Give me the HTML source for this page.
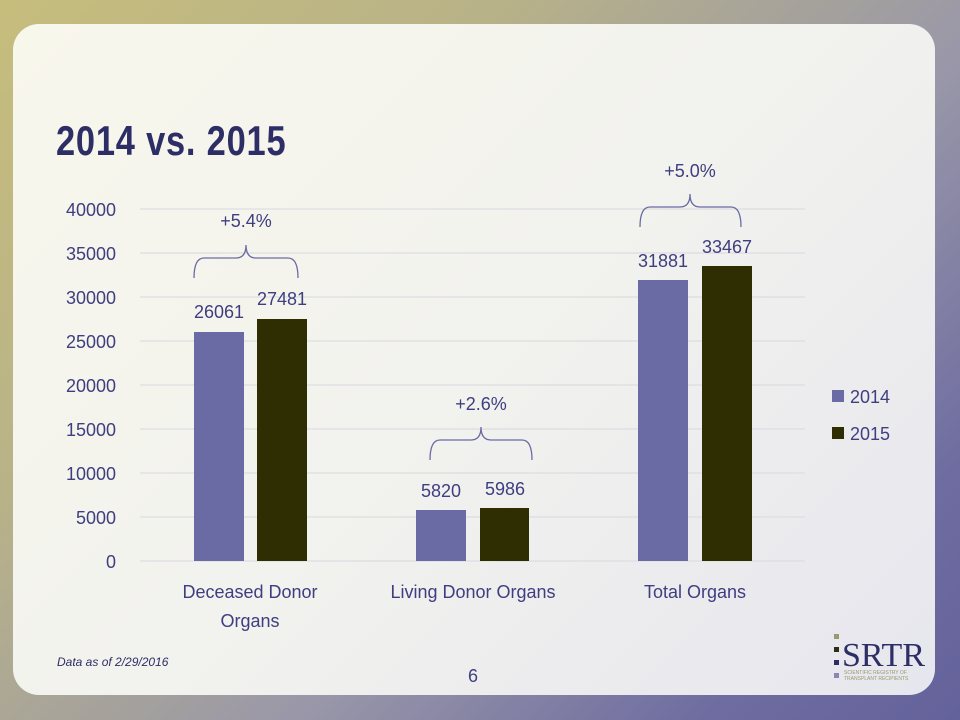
<!DOCTYPE html>
<html><head><meta charset="utf-8"><style>
body{margin:0;width:960px;height:720px;overflow:hidden;font-family:"Liberation Sans",sans-serif}
.bg{position:absolute;inset:0;background:linear-gradient(135deg,#c6bd7c 0%,#b8b288 30%,#9a98a8 60%,#6e6ca0 85%,#64629a 100%)}
.panel{position:absolute;left:13px;top:24px;width:922px;height:671px;border-radius:26px;background:linear-gradient(135deg,#f8f7ec 0%,#f2f2ee 50%,#e6e6ee 100%)}
</style></head><body>
<div class="bg"></div><div class="panel"></div>
<svg width="960" height="720" style="position:absolute;left:0;top:0" font-family="Liberation Sans, sans-serif">
<text x="56" y="155" font-size="42" font-weight="bold" fill="#2e2e66" transform="scale(0.82,1)" style="transform-origin:56px 155px" textLength="280">2014 vs. 2015</text>
<g stroke="#d8d8e0" stroke-width="1">
<line x1="140" x2="805" y1="209" y2="209"/><line x1="140" x2="805" y1="253" y2="253"/><line x1="140" x2="805" y1="297" y2="297"/><line x1="140" x2="805" y1="341" y2="341"/><line x1="140" x2="805" y1="385" y2="385"/><line x1="140" x2="805" y1="429" y2="429"/><line x1="140" x2="805" y1="473" y2="473"/><line x1="140" x2="805" y1="517" y2="517"/><line x1="140" x2="805" y1="561" y2="561"/>
</g>
<g font-size="18" fill="#3e3e80" text-anchor="end">
<text x="116" y="216">40000</text><text x="116" y="260">35000</text><text x="116" y="304">30000</text><text x="116" y="348">25000</text><text x="116" y="392">20000</text><text x="116" y="436">15000</text><text x="116" y="480">10000</text><text x="116" y="524">5000</text><text x="116" y="568">0</text>
</g>
<g fill="#6a6aa4"><rect x="194" y="332" width="50" height="229"/><rect x="416" y="510" width="50" height="51"/><rect x="638" y="280" width="50" height="281"/></g>
<g fill="#2e2e02"><rect x="257" y="319" width="50" height="242"/><rect x="480" y="508" width="49" height="53"/><rect x="702" y="266" width="50" height="295"/></g>
<g font-size="18" fill="#3e3e80" text-anchor="middle">
<text x="219" y="318">26061</text><text x="282" y="305">27481</text>
<text x="441" y="497">5820</text><text x="505" y="495">5986</text>
<text x="663" y="267">31881</text><text x="727" y="253">33467</text>
<text x="246" y="227">+5.4%</text><text x="481" y="410">+2.6%</text><text x="690" y="177">+5.0%</text>
<text x="250" y="598">Deceased Donor</text><text x="250" y="627">Organs</text>
<text x="473" y="598">Living Donor Organs</text><text x="695" y="598">Total Organs</text>
<text x="473" y="682">6</text>
</g>
<g fill="none" stroke="#6a6aa4" stroke-width="1.3">
<path d="M194,278 Q194,258 204,258 L236,258 Q246,258 246,245 Q246,258 256,258 L288,258 Q298,258 298,278"/>
<path d="M430,460 Q430,440 440,440 L471,440 Q481,440 481,427 Q481,440 491,440 L522,440 Q532,440 532,460"/>
<path d="M640,227 Q640,207 650,207 L680,207 Q690,207 690,194 Q690,207 700,207 L731,207 Q741,207 741,227"/>
</g>
<rect x="832" y="390" width="12" height="12" fill="#6a6aa4"/><rect x="832" y="427" width="12" height="12" fill="#2e2e02"/>
<g font-size="18" fill="#3e3e80"><text x="850" y="403">2014</text><text x="850" y="440">2015</text></g>
<text x="57" y="666" font-size="12" font-style="italic" fill="#2e2e66">Data as of 2/29/2016</text>
<rect x="834" y="634" width="5" height="5" fill="#9a9a70"/><rect x="834" y="647" width="5" height="5" fill="#2e2e10"/><rect x="834" y="660" width="5" height="5" fill="#2e2e66"/><rect x="834" y="673" width="5" height="5" fill="#8888b0"/>
<text x="842" y="666" font-size="34" font-family="Liberation Serif, serif" fill="#2e2e66">SRTR</text>
<text x="844" y="674" font-size="5" fill="#9a9a70">SCIENTIFIC REGISTRY OF</text>
<text x="844" y="680" font-size="5" fill="#9a9a70">TRANSPLANT RECIPIENTS</text>
</svg>
</body></html>
